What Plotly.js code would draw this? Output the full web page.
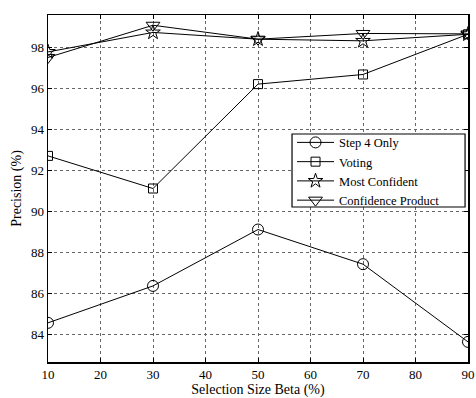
<!DOCTYPE html>
<html>
<head>
<meta charset="utf-8">
<script src="https://cdn.plot.ly/plotly-3.0.1.min.js"></script>
<style>html,body{margin:0;padding:0;background:#fff;}#chart{width:476px;height:398px;}</style>
</head>
<body>
<div id="chart"></div>
<script>
const beta = [10, 30, 50, 70, 90];
const step4Only = [84.59, 86.39, 89.14, 87.45, 83.66];
const voting = [92.73, 91.14, 96.23, 96.70, 98.66];
const mostConfident = [97.80, 98.75, 98.42, 98.34, 98.66];
const confidenceProduct = [97.53, 99.10, 98.42, 98.70, 98.68];
const seriesNames = ["Step 4 Only", "Voting", "Most Confident", "Confidence Product"];

const symbols = ["circle-open", "square-open", "star-open", "triangle-down-open"];
const sizes = [11, 9, 11, 12];
const ys = [step4Only, voting, mostConfident, confidenceProduct];

const traces = ys.map((y, i) => ({
  x: beta, y: y, name: seriesNames[i], type: "scatter", mode: "lines+markers",
  line: {color: "#000", width: 1},
  marker: {symbol: symbols[i], size: sizes[i], color: "#000", line: {color: "#000", width: 1}}
}));

const fam = "Liberation Serif";
const axisCommon = {
  showline: true, linecolor: "#000", linewidth: 1.5, mirror: "ticks",
  ticks: "inside", ticklen: 4, tickcolor: "#000", tickwidth: 1,
  showgrid: true, gridcolor: "#666", griddash: "dot", gridwidth: 1,
  zeroline: false, tickfont: {family: fam, size: 13, color: "#000"}
};

const layout = {
  width: 476, height: 398,
  margin: {l: 48, r: 8, t: 15, b: 36},
  paper_bgcolor: "#fff", plot_bgcolor: "#fff",
  font: {family: fam, size: 12, color: "#000"},
  showlegend: true,
  legend: {
    x: 0.581, y: 0.675, xanchor: "left", yanchor: "top",
    bgcolor: "rgba(0,0,0,0)", borderwidth: 0,
    font: {family: fam, size: 12.5, color: "#000"},
    tracegroupgap: 0, itemwidth: 37
  },
  shapes: [{
    type: "rect", xref: "paper", yref: "paper", layer: "above",
    x0: 0.581, x1: 0.993, y0: 0.4467, y1: 0.657,
    fillcolor: "#fff", line: {color: "#000", width: 1.2}
  }],
  xaxis: Object.assign({}, axisCommon, {
    range: [10, 90], tickvals: [10, 20, 30, 40, 50, 60, 70, 80, 90],
    title: {text: "Selection Size Beta (%)", font: {family: fam, size: 14, color: "#000"}, standoff: 3}
  }),
  yaxis: Object.assign({}, axisCommon, {
    range: [82.68, 99.6], tickvals: [84, 86, 88, 90, 92, 94, 96, 98],
    title: {text: "Precision (%)", font: {family: fam, size: 14, color: "#000"}, standoff: 6}
  })
};

Plotly.newPlot("chart", traces, layout, {displayModeBar: false, staticPlot: true});
</script>
</body>
</html>
